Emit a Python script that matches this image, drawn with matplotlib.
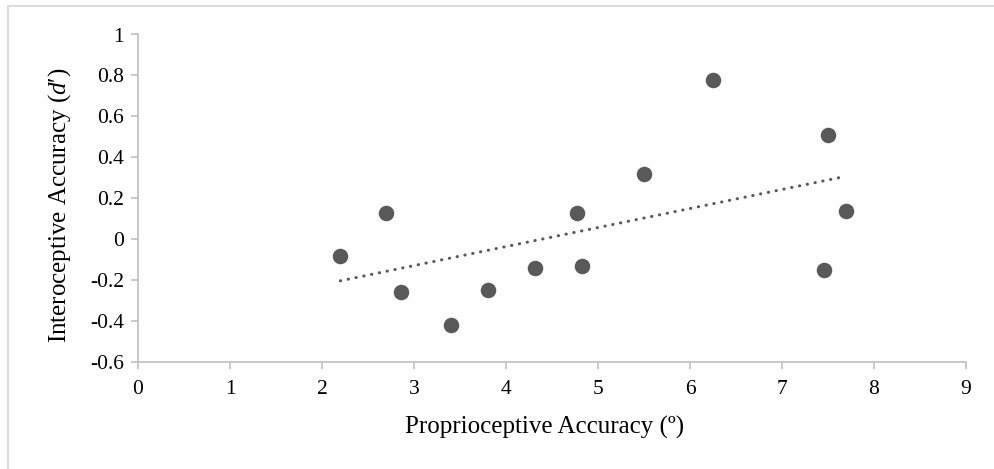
import numpy as np
import matplotlib
matplotlib.use("Agg")
import matplotlib.pyplot as plt
from matplotlib.lines import Line2D

# Data
prop_acc = [2.20, 2.70, 2.86, 3.40, 3.80, 4.31, 4.77, 4.83, 5.50, 6.25, 7.50, 7.70, 7.46]
intero_acc = [-0.08, 0.13, -0.26, -0.42, -0.25, -0.14, 0.13, -0.13, 0.32, 0.78, 0.51, 0.14, -0.15]
x_ticks = list(range(0, 10))
y_ticks = [-0.6, -0.4, -0.2, 0, 0.2, 0.4, 0.6, 0.8, 1]
y_tick_labels = ['-0.6', '-0.4', '-0.2', '0', '0.2', '0.4', '0.6', '0.8', '1']

plt.rcParams['font.family'] = ['Liberation Serif', 'DejaVu Serif']
plt.rcParams['mathtext.fontset'] = 'custom'
plt.rcParams['mathtext.it'] = 'Liberation Serif:italic'
plt.rcParams['mathtext.rm'] = 'Liberation Serif'

dark = '#595959'
axis_grey = '#BFBFBF'

fig = plt.figure(figsize=(9.95, 4.69), dpi=100)
ax = fig.add_axes([138 / 995, 1 - 362 / 469, 828 / 995, (362 - 34.5) / 469])

# Scatter points
ax.scatter(prop_acc, intero_acc, s=125, color=dark, zorder=3, linewidths=0)

# Linear trendline (dotted)
x = np.array(prop_acc)
y = np.array(intero_acc)
slope, intercept = np.polyfit(x, y, 1)
xs = np.array([x.min(), 7.62])
ax.plot(xs, intercept + slope * xs, color=dark, lw=2.2,
        linestyle=(0, (0.1, 2.5)), dash_capstyle='round', zorder=2)

ax.set_xlim(0, 9)
ax.set_ylim(-0.6, 1)
ax.set_xticks(x_ticks)
ax.set_yticks(y_ticks)
ax.set_xticklabels([str(t) for t in x_ticks])
ax.set_yticklabels(y_tick_labels)

for side in ['top', 'right']:
    ax.spines[side].set_visible(False)
for side in ['left', 'bottom']:
    ax.spines[side].set_color(axis_grey)
    ax.spines[side].set_linewidth(1.2)

ax.tick_params(axis='both', colors=axis_grey, labelcolor='black', labelsize=15.5,
               length=5, width=1.2, direction='out')
ax.tick_params(axis='y', pad=5)
ax.tick_params(axis='x', pad=8)

ax.set_xlabel('Proprioceptive Accuracy (º)', fontsize=18, labelpad=12)
ax.set_ylabel("Interoceptive Accuracy ($d$′)", fontsize=18, labelpad=12)
ax.xaxis.label.set_x(0.491)
ax.yaxis.label.set_y(0.479)

# Chart-area border (left and top visible)
fig.add_artist(Line2D([8 / 995, 8 / 995], [0, 1 - 6 / 469], transform=fig.transFigure,
                      color='#D9D9D9', lw=1.3))
fig.add_artist(Line2D([8 / 995, 1], [1 - 6 / 469, 1 - 6 / 469], transform=fig.transFigure,
                      color='#D9D9D9', lw=1.3))

plt.savefig('out.png', dpi=100)
